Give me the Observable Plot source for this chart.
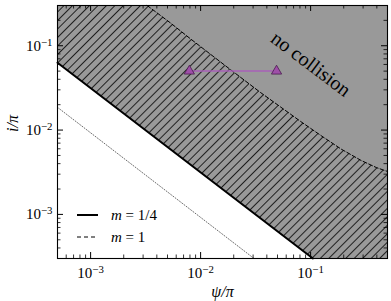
<!DOCTYPE html>
<html><head><meta charset="utf-8">
<script src="https://cdn.jsdelivr.net/npm/d3@7"></script>
<script src="https://cdn.jsdelivr.net/npm/@observablehq/plot@0.6"></script>
<style>
body{margin:0;background:#fff;}
#wrap{position:relative;width:391px;height:301px;}
#wrap svg, #wrap svg text{font-family:"Liberation Serif","Times New Roman",serif !important;}
#legend{position:absolute;left:0;top:0;pointer-events:none;}
</style></head><body><div id="wrap"></div>
<script>
// axis domains and tick labels (exponents of 10)
const xDomain = [5e-4, 0.5];
const yDomain = [3e-4, 0.3];
const xMajor = [1e-3, 1e-2, 1e-1];
const yMajor = [1e-3, 1e-2, 1e-1];
const xTickExp = ["−3", "−2", "−1"];
const yTickExp = ["−3", "−2", "−1"];

// m = 1/4 boundary (solid)
const solidX = [5e-4, 0.105];
const solidY = [0.0629, 3e-4];
// dotted reference line
const dottedX = [5e-4, 0.0306];
const dottedY = [0.0186, 3e-4];
// m = 1 boundary (dashed)
const dashX = [0.003267, 0.0053, 0.00807, 0.01229, 0.01871, 0.03516, 0.05356, 0.0815, 0.1242, 0.1891, 0.2879, 0.3948, 0.5];
const dashY = [0.3, 0.1871, 0.1210, 0.0793, 0.0520, 0.0278, 0.01871, 0.01260, 0.00861, 0.00596, 0.00436, 0.00360, 0.00323];
// purple markers
const markX = [0.0079, 0.049];
const markY = [0.05, 0.05];
// annotation
const noteX = [0.1007];
const noteY = [0.0604];
const noteText = ["no collision"];

const W = 391, H = 301, mL = 57, mR = 4, mT = 5, mB = 43;
const iW = W - mL - mR, iH = H - mT - mB;
const FONT = '"Liberation Serif","Times New Roman",serif';

const pts = (xs, ys) => xs.map((x, i) => ({x, y: ys[i]}));
const dash = pts(dashX, dashY);
const grayPoly = [
  {x: xDomain[0], y: yDomain[1]},
  ...pts(solidX, solidY),
  {x: xDomain[1], y: yDomain[0]},
  {x: xDomain[1], y: yDomain[1]}
];
const hatchPoly = [
  {x: xDomain[0], y: yDomain[1]},
  ...pts(solidX, solidY),
  {x: xDomain[1], y: yDomain[0]},
  ...dash.slice().reverse()
];

const xMinor = d3.scaleLog().domain(xDomain).ticks().filter(v => !xMajor.some(m => Math.abs(m - v) < 1e-12));
const yMinor = d3.scaleLog().domain(yDomain).ticks().filter(v => !yMajor.some(m => Math.abs(m - v) < 1e-12));
const MJ = 6, MN = 3.5;

const plot = Plot.plot({
  width: W, height: H,
  marginLeft: mL, marginRight: mR, marginTop: mT, marginBottom: mB,
  style: {fontFamily: FONT, fontSize: "14px", background: "white", color: "black"},
  x: {type: "log", domain: xDomain, axis: null},
  y: {type: "log", domain: yDomain, axis: null},
  marks: [
    Plot.line(grayPoly, {x: "x", y: "y", fill: "#999999", stroke: "none"}),
    Plot.line(hatchPoly, {x: "x", y: "y", fill: "url(#hatch)", stroke: "none"}),
    Plot.line(pts(dottedX, dottedY), {x: "x", y: "y", stroke: "#444", strokeWidth: 0.8, strokeDasharray: "1,1.8"}),
    Plot.line(pts(solidX, solidY), {x: "x", y: "y", stroke: "black", strokeWidth: 2}),
    Plot.line(dash, {x: "x", y: "y", stroke: "black", strokeWidth: 1, strokeDasharray: "4,2.2"}),
    Plot.line(pts(markX, markY), {x: "x", y: "y", stroke: "#a860b8", strokeWidth: 1.5}),
    Plot.dot(pts(markX, markY), {x: "x", y: "y", symbol: "triangle", r: 3.8, fill: "#9e4fa8", stroke: "#4a1a4e", strokeWidth: 0.8}),
    Plot.text(noteText, {x: noteX, y: noteY, text: d => d, rotate: 37, fontSize: 20, textAnchor: "middle", lineAnchor: "middle"}),
    // ticks (inward, all four sides)
    Plot.ruleX(xMajor, {x: d => d, insetTop: iH - MJ, stroke: "black"}),
    Plot.ruleX(xMajor, {x: d => d, insetBottom: iH - MJ, stroke: "black"}),
    Plot.ruleX(xMinor, {x: d => d, insetTop: iH - MN, stroke: "black", strokeWidth: 0.8}),
    Plot.ruleX(xMinor, {x: d => d, insetBottom: iH - MN, stroke: "black", strokeWidth: 0.8}),
    Plot.ruleY(yMajor, {y: d => d, insetRight: iW - MJ, stroke: "black"}),
    Plot.ruleY(yMajor, {y: d => d, insetLeft: iW - MJ, stroke: "black"}),
    Plot.ruleY(yMinor, {y: d => d, insetRight: iW - MN, stroke: "black", strokeWidth: 0.8}),
    Plot.ruleY(yMinor, {y: d => d, insetLeft: iW - MN, stroke: "black", strokeWidth: 0.8}),
    Plot.frame({stroke: "black", strokeWidth: 1.1}),
    // tick labels
    Plot.text(xMajor, {x: d => d, frameAnchor: "bottom", dy: 15, text: (d, i) => "10^" + xTickExp[i], fontSize: 15, lineAnchor: "middle"}),
    Plot.text(yMajor, {y: d => d, frameAnchor: "left", dx: -5, text: (d, i) => "10^" + yTickExp[i], fontSize: 15, textAnchor: "end", lineAnchor: "middle"}),
    Plot.text(["ψ/π"], {frameAnchor: "bottom", dy: 33, text: d => d, fontSize: 16, fontStyle: "italic", lineAnchor: "middle"}),
    Plot.text(["i/π"], {frameAnchor: "left", dx: -45, text: d => d, fontSize: 16, fontStyle: "italic", rotate: -90, lineAnchor: "middle"})
  ]
});

// hatch pattern
const svg = d3.select(plot);
const defs = svg.insert("defs", ":first-child");
const pat = defs.append("pattern").attr("id", "hatch").attr("patternUnits", "userSpaceOnUse")
  .attr("width", 6).attr("height", 6).attr("patternTransform", "rotate(45)");
pat.append("line").attr("x1", 0).attr("y1", 0).attr("x2", 0).attr("y2", 6)
  .attr("stroke", "black").attr("stroke-width", 1.6);

// superscript tick labels
svg.selectAll("text").each(function() {
  const t = d3.select(this);
  const s = t.text();
  if (!s.startsWith("10^")) return;
  const exp = s.slice(3);
  t.text("");
  t.append("tspan").text("10");
  t.append("tspan").attr("dy", "-0.45em").attr("font-size", "0.72em").text(exp);
});

const wrap = document.getElementById("wrap");
wrap.appendChild(plot);

// legend overlay
const lg = d3.select(wrap).append("svg").attr("id", "legend").attr("width", W).attr("height", H)
  .style("font-family", FONT).style("font-size", "15px");
const legendItems = [
  {label: "1/4", dash: null, w: 2, y: 215},
  {label: "1", dash: "4,3", w: 1, y: 237}
];
legendItems.forEach(it => {
  lg.append("line").attr("x1", 77).attr("x2", 98).attr("y1", it.y).attr("y2", it.y)
    .attr("stroke", "black").attr("stroke-width", it.w).attr("stroke-dasharray", it.dash);
  const t = lg.append("text").attr("x", 111).attr("y", it.y + 5);
  t.append("tspan").attr("font-style", "italic").text("m");
  t.append("tspan").text(" = " + it.label);
});
</script></body></html>
